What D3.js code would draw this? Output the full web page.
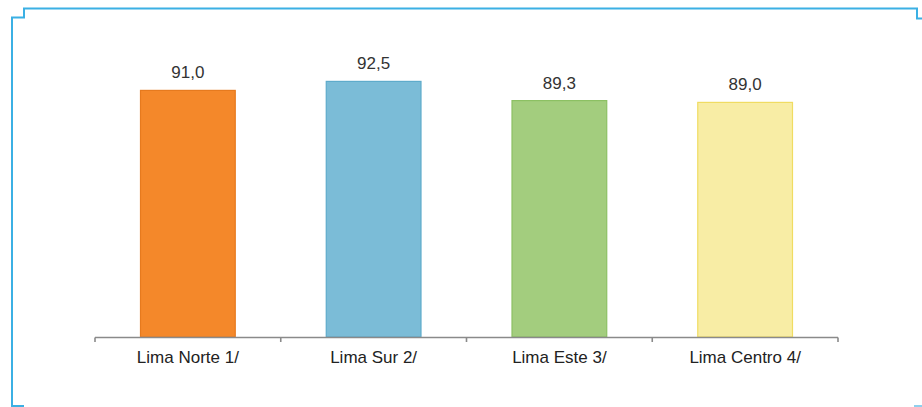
<!DOCTYPE html>
<html><head><meta charset="utf-8">
<script src="https://cdn.jsdelivr.net/npm/d3@7"></script>
<style>body{margin:0;background:#fff}svg{display:block}</style>
</head><body>
<svg id="c" width="922" height="407"></svg>
<script>
const categories = ["Lima Norte 1/", "Lima Sur 2/", "Lima Este 3/", "Lima Centro 4/"];
const values = [91.0, 92.5, 89.3, 89.0];
const labels = ["91,0", "92,5", "89,3", "89,0"];
const fills = ["#F4882A", "#7BBCD7", "#A3CD7E", "#F8EDA5"];
const strokes = ["#E67A1E", "#5EABCB", "#8CC063", "#F0DC62"];

const svg = d3.select("#c");
// frame
svg.append("path")
  .attr("d", "M24,406 H12 V17.5 H24 V8.5 H917 V18.5 H922")
  .attr("fill", "none").attr("stroke", "#3BB0E4").attr("stroke-width", 2);
svg.append("path").attr("d","M914,406 H922").attr("stroke","#8FD0EE").attr("stroke-width",2);

const x = d3.scaleBand().domain(categories).range([95, 838]).paddingInner(0.49).paddingOuter(0.245);
const y = d3.scaleLinear().domain([49.9, 100]).range([337, 36.4]);

svg.selectAll("rect.bar").data(values).join("rect")
  .attr("class", "bar")
  .attr("x", (d, i) => x(categories[i]))
  .attr("width", x.bandwidth())
  .attr("y", d => y(d))
  .attr("height", d => y.range()[0] - y(d))
  .attr("fill", (d, i) => fills[i])
  .attr("stroke", (d, i) => strokes[i]).attr("stroke-width", 1.2);

svg.selectAll("text.val").data(values).join("text")
  .attr("class", "val")
  .attr("x", (d, i) => x(categories[i]) + x.bandwidth() / 2)
  .attr("y", d => y(d) - 12)
  .attr("text-anchor", "middle")
  .attr("font-family", "Liberation Sans, Arial, sans-serif")
  .attr("font-size", 17).attr("fill", "#333")
  .text((d, i) => labels[i]);

// axis
const ax = svg.append("g");
ax.append("path").attr("d", `M95,337.5 H838`).attr("stroke", "#8a8a8a").attr("stroke-width", 1.6).attr("fill","none");
const tickPos = d3.range(categories.length + 1).map(i => 95 + i * (838 - 95) / categories.length);
ax.selectAll("line.t").data(tickPos).join("line")
  .attr("x1", d => d).attr("x2", d => d).attr("y1", 337.5).attr("y2", 342)
  .attr("stroke", "#8a8a8a").attr("stroke-width", 1.6);
ax.selectAll("text.cat").data(categories).join("text")
  .attr("x", d => x(d) + x.bandwidth() / 2)
  .attr("y", 363)
  .attr("text-anchor", "middle")
  .attr("font-family", "Liberation Sans, Arial, sans-serif")
  .attr("font-size", 17).attr("fill", "#222")
  .text(d => d);
</script>
</body></html>
